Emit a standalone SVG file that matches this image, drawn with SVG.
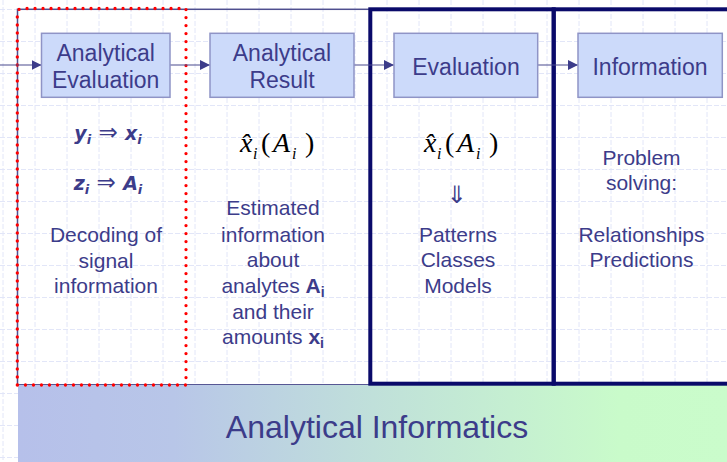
<svg xmlns="http://www.w3.org/2000/svg" width="727" height="462" viewBox="0 0 727 462">
  <defs>
    <style>
      .grid { stroke: #e2e6f8; stroke-width: 1; stroke-dasharray: 5 2; fill: none; }
      .frame { fill: none; stroke: #4f4f8f; stroke-width: 1.5; }
      .thick { fill: none; stroke: #0a0a6a; stroke-width: 4; }
      .dotted { fill: none; stroke: #ff0000; stroke-width: 3.3; stroke-linecap: round; stroke-dasharray: 0 8; }
      .node rect { fill: #ccdafa; stroke: #8f94c6; stroke-width: 1.5; }
      .lbl { font-family: "Liberation Sans", Arial, sans-serif; font-size: 23px; fill: #3c3c8a; text-anchor: middle; }
      .body { font-family: "Liberation Sans", Arial, sans-serif; font-size: 21px; fill: #3c3c8a; text-anchor: middle; }
      .formula { font-family: "DejaVu Sans", sans-serif; font-size: 19px; font-weight: bold; font-style: oblique; fill: #3c3c8a; }
      .math { font-family: "Liberation Serif", "Times New Roman", serif; font-size: 28px; fill: #000000; }
      .title { font-family: "Liberation Sans", Arial, sans-serif; font-size: 32px; fill: #3c3c8a; text-anchor: middle; }
      .conn line { stroke: #4a4a8e; stroke-width: 1.2; }
    </style>
    <marker id="arrow" viewBox="0 0 10 10" refX="10" refY="5" markerWidth="10" markerHeight="10" markerUnits="userSpaceOnUse" orient="auto">
      <path d="M0,0 L10,5 L0,10 Z" fill="#3c3c8a"/>
    </marker>
    <linearGradient id="band" x1="0" y1="0" x2="1" y2="0">
      <stop offset="0" stop-color="#b6c0ea"/>
      <stop offset="0.22" stop-color="#b8c6e8"/>
      <stop offset="0.5" stop-color="#c0e0da"/>
      <stop offset="0.85" stop-color="#c9fbca"/>
      <stop offset="1" stop-color="#cafccb"/>
    </linearGradient>
  </defs>

  <!-- page background and light dashed grid -->
  <rect x="0" y="0" width="727" height="462" fill="#ffffff"/>
  <path class="grid" d="M3,0V462 M35,0V462 M67,0V462 M99,0V462 M131,0V462 M163,0V462 M195,0V462 M227,0V462 M259,0V462 M291,0V462 M323,0V462 M355,0V462 M387,0V462 M419,0V462 M451,0V462 M483,0V462 M515,0V462 M547,0V462 M579,0V462 M611,0V462 M643,0V462 M675,0V462 M707,0V462 M0,9.5H727 M0,41.5H727 M0,73.5H727 M0,105.5H727 M0,137.5H727 M0,169.5H727 M0,201.5H727 M0,233.5H727 M0,265.5H727 M0,297.5H727 M0,329.5H727 M0,361.5H727 M0,393.5H727 M0,425.5H727 M0,457.5H727"/>

  <!-- outer thin frame -->
  <rect class="frame" x="17.5" y="9.3" width="720" height="375.5"/>

  <!-- bottom band -->
  <g id="band-informatics">
    <rect x="18" y="385" width="709" height="77" fill="url(#band)"/>
    <text class="title" x="377" y="438">Analytical Informatics</text>
  </g>

  <!-- stage frames -->
  <rect id="frame-evaluation" class="thick" x="370.3" y="9.3" width="183.4" height="374.4"/>
  <rect id="frame-information" class="thick" x="553.7" y="9.3" width="190" height="374.4"/>
  <path id="frame-decoding" class="dotted" d="M17.3,385 V14 Q17.3,8.5 22.5,8.5 H186 V385 Z"/>

  <!-- connectors -->
  <g id="connectors" class="conn">
    <line x1="0" y1="65" x2="41.5" y2="65" marker-end="url(#arrow)"/>
    <line x1="170" y1="65" x2="210" y2="65" marker-end="url(#arrow)"/>
    <line x1="354" y1="65" x2="394" y2="65" marker-end="url(#arrow)"/>
    <line x1="538" y1="65" x2="578" y2="65" marker-end="url(#arrow)"/>
  </g>

  <!-- nodes -->
  <g id="node-analytical-evaluation" class="node">
    <rect x="41.5" y="33.3" width="128.5" height="64"/>
    <text class="lbl" x="105.7" y="61">Analytical</text>
    <text class="lbl" x="105.7" y="88">Evaluation</text>
  </g>
  <g id="node-analytical-result" class="node">
    <rect x="210" y="33.3" width="144" height="64"/>
    <text class="lbl" x="282" y="61">Analytical</text>
    <text class="lbl" x="282" y="88">Result</text>
  </g>
  <g id="node-evaluation" class="node">
    <rect x="394" y="33.3" width="143.7" height="64"/>
    <text class="lbl" x="466" y="75">Evaluation</text>
  </g>
  <g id="node-information" class="node">
    <rect x="578" y="33.3" width="144.3" height="64"/>
    <text class="lbl" x="650" y="75">Information</text>
  </g>

  <!-- column 1: decoding -->
  <g id="col-decoding">
    <text class="formula" x="108" y="140" text-anchor="middle">y<tspan font-size="13" dy="4">i</tspan><tspan dy="-4" font-size="23" font-weight="normal"> ⇒ </tspan><tspan>x</tspan><tspan font-size="13" dy="4">i</tspan></text>
    <text class="formula" x="108" y="190" text-anchor="middle">z<tspan font-size="13" dy="4">i</tspan><tspan dy="-4" font-size="23" font-weight="normal"> ⇒ </tspan><tspan>A</tspan><tspan font-size="13" dy="4">i</tspan></text>
    <text class="body" x="106" y="242">Decoding of</text>
    <text class="body" x="106" y="267.5">signal</text>
    <text class="body" x="106" y="293">information</text>
  </g>

  <!-- column 2: analytical result, x-hat_i(A_i) -->
  <g id="col-result">
    <text class="math"><tspan x="240" y="151.7" font-style="italic">x̂</tspan><tspan x="253" y="159" font-size="16" font-style="italic">i</tspan><tspan x="261" y="151.7">(</tspan><tspan x="273" y="151.7" font-style="italic">A</tspan><tspan x="292" y="159" font-size="16" font-style="italic">i</tspan><tspan x="305" y="151.7">)</tspan></text>
    <text class="body" x="273" y="215">Estimated</text>
    <text class="body" x="273" y="241.5">information</text>
    <text class="body" x="273" y="267.3">about</text>
    <text class="body" x="273" y="293.3">analytes <tspan font-weight="bold">A</tspan><tspan font-weight="bold" font-size="14" dy="4">i</tspan></text>
    <text class="body" x="273" y="318.5">and their</text>
    <text class="body" x="273" y="344">amounts <tspan font-weight="bold">x</tspan><tspan font-weight="bold" font-size="14" dy="4">i</tspan></text>
  </g>

  <!-- column 3: evaluation -->
  <g id="col-evaluation">
    <text class="math"><tspan x="424" y="151.7" font-style="italic">x̂</tspan><tspan x="437" y="159" font-size="16" font-style="italic">i</tspan><tspan x="445" y="151.7">(</tspan><tspan x="457" y="151.7" font-style="italic">A</tspan><tspan x="476" y="159" font-size="16" font-style="italic">i</tspan><tspan x="489" y="151.7">)</tspan></text>
    <text x="456.5" y="203" font-family="DejaVu Sans, sans-serif" font-size="24" fill="#3c3c8a" text-anchor="middle">⇓</text>
    <text class="body" x="458" y="241.7">Patterns</text>
    <text class="body" x="458" y="267.3">Classes</text>
    <text class="body" x="458" y="292.7">Models</text>
  </g>

  <!-- column 4: information -->
  <g id="col-information">
    <text class="body" x="641.5" y="165">Problem</text>
    <text class="body" x="641.5" y="190">solving:</text>
    <text class="body" x="641.5" y="241.7">Relationships</text>
    <text class="body" x="641.5" y="267.3">Predictions</text>
  </g>
</svg>
